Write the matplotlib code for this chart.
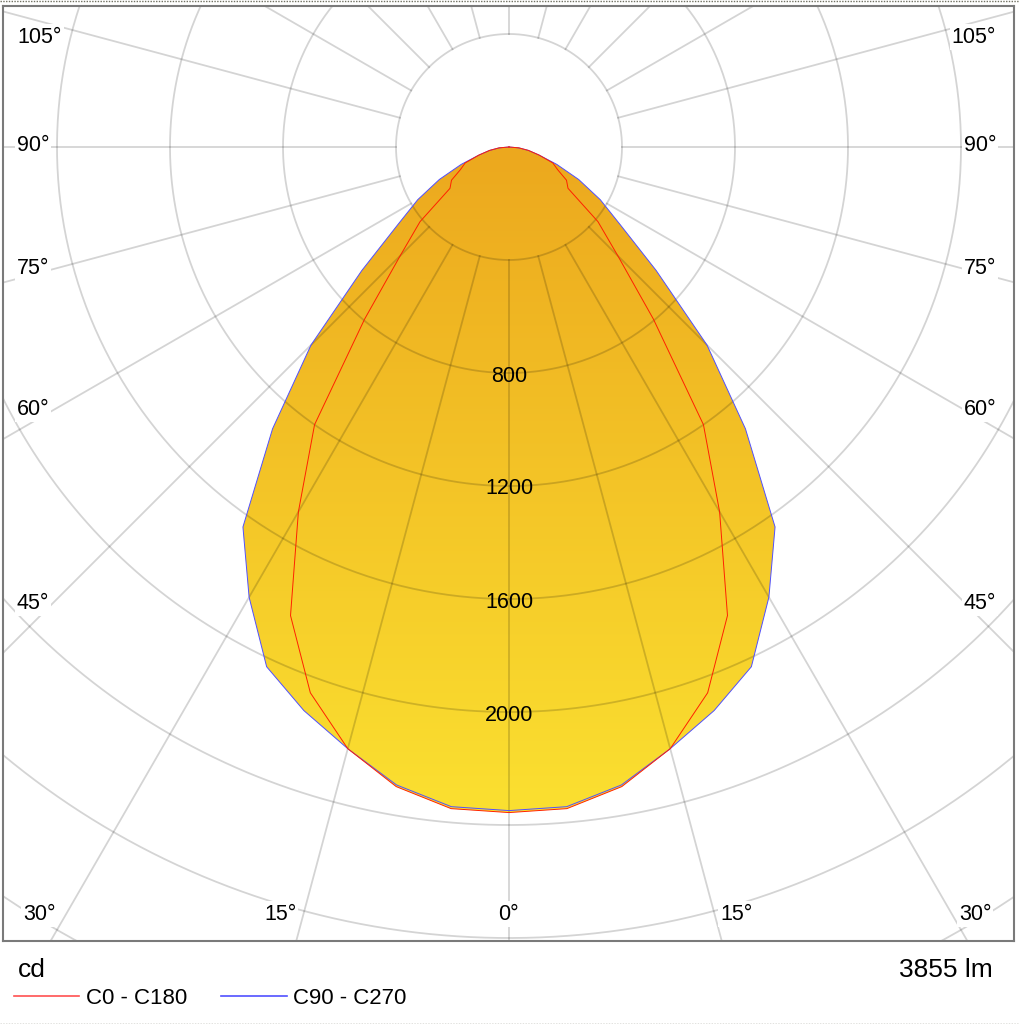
import numpy as np
import matplotlib
matplotlib.use('Agg')
import matplotlib.pyplot as plt
from matplotlib.patches import Polygon
from matplotlib.lines import Line2D

plt.rcParams['font.family'] = ['Liberation Sans', 'DejaVu Sans']

# luminous intensity (cd) vs gamma angle
gamma = np.arange(0, 91, 5)
cd_c0_c180 = [2356, 2351, 2299, 2205, 2056, 1830, 1491, 1200, 795, 545,
              411, 255, 235, 190, 165, 110, 70, 35, 0]
cd_c90_c270 = [2349, 2344, 2293, 2205, 2123, 2030, 1840, 1642, 1302, 991,
               680, 482, 373, 272, 180, 110, 70, 35, 0]

ring_values = np.arange(400, 4001, 400)
ring_labels = [800, 1200, 1600, 2000]
spoke_angles = np.arange(0, 360, 15)
flux_text = '3855 lm'
unit_text = 'cd'
series_names = ['C0 - C180', 'C90 - C270']

# pixel layout helpers (reference image is 1019x1024, origin at 509,147)
W, H = 1019, 1024
S = 113 / 400.0
cx, cy = 509, 147


def p2d(x, y):
    return (x - cx) / S, (cy - y) / S


def full_curve(vals):
    # mirror the half-plane so the curve spans -90..90 degrees
    g = np.concatenate([-gamma[::-1], gamma[1:]])
    v = np.concatenate([np.asarray(vals)[::-1], np.asarray(vals)[1:]])
    t = np.radians(g)
    return v * np.sin(t), -v * np.cos(t)


fig = plt.figure(figsize=(W / 100, H / 100), dpi=100)
ax = fig.add_axes([3 / W, 1 - 941 / H, 1011 / W, 935 / H])
x0, y1 = p2d(3, 6)
x1, y0 = p2d(1014, 941)

# gradient fill of the union of both curves
union = np.maximum(cd_c0_c180, cd_c90_c270)
ux, uy = full_curve(union)
poly = Polygon(np.column_stack([ux, uy]), closed=True, fc='none', ec='none')
ax.add_patch(poly)
top = np.array([236, 168, 30]) / 255.0
bot = np.array([251, 224, 48]) / 255.0
f = np.linspace(0, 1, 256)[:, None]
grad = (top[None, :] * (1 - f) + bot[None, :] * f)[:, None, :]
im = ax.imshow(grad, extent=[ux.min(), ux.max(), uy.min(), 0], origin='upper',
               aspect='auto', interpolation='bilinear', zorder=1)
im.set_clip_path(poly)

# grid, drawn translucent on top of the fill
tt = np.linspace(0, 2 * np.pi, 720)
for r in ring_values:
    ax.plot(r * np.sin(tt), r * np.cos(tt), color='black', alpha=0.17,
            lw=1.3, zorder=2)
for a in spoke_angles:
    ar = np.radians(a)
    ax.plot([400 * np.sin(ar), 5000 * np.sin(ar)],
            [-400 * np.cos(ar), -5000 * np.cos(ar)],
            color='black', alpha=0.17, lw=1.3, zorder=2)

bx, by = full_curve(cd_c90_c270)
ax.plot(bx, by, color='#5050ff', lw=0.7, zorder=3)
rx, ry = full_curve(cd_c0_c180)
ax.plot(rx, ry, color='#ff2000', lw=0.7, zorder=3)

for v in ring_labels:
    ax.annotate(str(v), (0, -v), xytext=(0, -3), textcoords='offset pixels',
                ha='center', va='center', fontsize=15.5, zorder=4)

# angle labels along the frame
box = dict(fc='white', ec='none', pad=1.5)
side_labels = [('105°', 40, 974, 37), ('90°', 33, 980, 145), ('75°', 33, 980, 268),
               ('60°', 33, 980, 409), ('45°', 33, 980, 603)]
for txt, xl, xr, yy in side_labels:
    ax.text(*p2d(xl, yy), txt, ha='center', va='center', fontsize=15.5,
            bbox=box, zorder=5)
    ax.text(*p2d(xr, yy), txt, ha='center', va='center', fontsize=15.5,
            bbox=box, zorder=5)
bottom_labels = [('30°', 39), ('15°', 280), ('0°', 508), ('15°', 736), ('30°', 975)]
for txt, xx in bottom_labels:
    ax.text(*p2d(xx, 914), txt, ha='center', va='center', fontsize=15.5,
            bbox=box, zorder=5)

ax.set_xlim(x0, x1)
ax.set_ylim(y0, y1)
ax.set_xticks([])
ax.set_yticks([])
for sp in ax.spines.values():
    sp.set_color('#7a7a7a')
    sp.set_linewidth(1.5)

# text and legend under the diagram
fig.text(18 / W, 1 - 977 / H, unit_text, fontsize=19, va='baseline', ha='left')
fig.text(993 / W, 1 - 977 / H, flux_text, fontsize=19, va='baseline', ha='right')
fig.add_artist(Line2D([14 / W, 79 / W], [1 - 996 / H] * 2, color='#ff5050', lw=1.2))
fig.text(86 / W, 1 - 1004 / H, series_names[0], fontsize=16, va='baseline')
fig.add_artist(Line2D([221 / W, 287 / W], [1 - 996 / H] * 2, color='#5050ff', lw=1.2))
fig.text(293 / W, 1 - 1004 / H, series_names[1], fontsize=16, va='baseline')

# dotted edges of the original screenshot
for yy in [0.5, 1023.5]:
    fig.add_artist(Line2D([0, 1], [1 - yy / H] * 2, color='#707060', lw=1,
                          ls=(0, (1, 1))))

fig.savefig('out.png', dpi=100)
